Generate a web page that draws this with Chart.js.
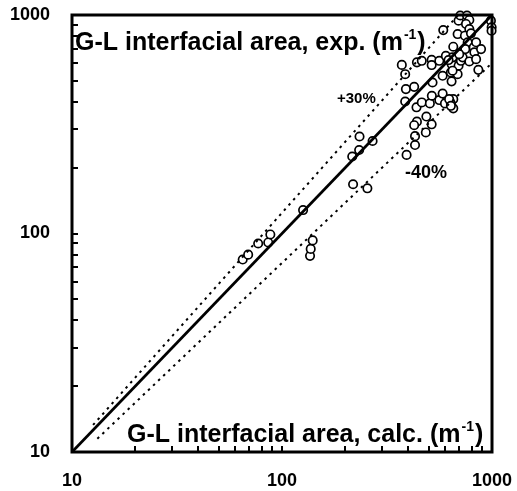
<!DOCTYPE html>
<html><head><meta charset="utf-8">
<script src="https://cdn.jsdelivr.net/npm/chart.js@4/dist/chart.umd.min.js"></script>
<style>html,body{margin:0;padding:0;background:#fff;}#wrap{width:517px;height:491px;}</style>
</head><body><div id="wrap"><canvas id="c" width="517" height="491"></canvas></div>
<script>
// Measured points: G-L interfacial area, calculated (x) vs experimental (y), m^-1
const calcValues = [65,69,77,86,88,126,136,137,140,216,233,234,270,218,255,392,430,430,439,426,484,516,487,437,463,506,517,561,582,597,654,654,637,386,389,426,386,372,439,463,516,516,561,521,582,603,642,637,642,649,654,686,693,711,725,686,693,706,760,780,752,780,743,766,746,780,818,824,840,840,887,794,861,586,988,996,995,698,625,637,621,649];
const expValues  = [76,80,90,91,99,128,79,85,93,225,241,278,265,168,161,229,254,279,325,313,290,316,343,378,398,394,427,408,437,394,374,412,394,402,458,469,536,591,607,617,624,590,617,491,527,650,497,546,596,640,716,536,586,617,640,818,942,995,995,949,910,863,804,750,698,613,711,675,750,628,698,824,561,853,942,879,847,662,412,384,622,556];
// Reference lines
const parityX = [10, 1000];
const parityY = [10, 1000];
const plus30X = [12.6, 690];
const plus30Y = [13.3, 1000];
const minus40X = [13.2, 1000];
const minus40Y = [11.5, 603];
// Axis ticks
const axisTickLabels = [10, 100, 1000];
const minorTickValues = [20,30,40,50,60,70,80,90,100,200,300,400,500,600,700,800,900];
const titleY = 'G-L interfacial area, exp. (m';
const titleX = 'G-L interfacial area, calc. (m';
const supText = '-1';
const plusLabel = '+30%';
const minusLabel = '-40%';

const FONT = '"Liberation Sans", Arial, Helvetica, sans-serif';
const pts = calcValues.map((v, i) => ({x: v, y: expValues[i]}));
const toPts = (xs, ys) => xs.map((v, i) => ({x: v, y: ys[i]}));

const decor = {
  id: 'decor',
  afterDraw(chart) {
    const ctx = chart.ctx, a = chart.chartArea;
    const xs = chart.scales.x, ys = chart.scales.y;
    ctx.save();
    ctx.strokeStyle = '#000';
    ctx.lineWidth = 2;
    minorTickValues.forEach(v => {
      const py = Math.round(ys.getPixelForValue(v));
      ctx.beginPath(); ctx.moveTo(a.left, py); ctx.lineTo(a.left + 6, py); ctx.stroke();
      const px = Math.round(xs.getPixelForValue(v));
      ctx.beginPath(); ctx.moveTo(px, a.bottom); ctx.lineTo(px, a.bottom - 6); ctx.stroke();
    });
    ctx.lineWidth = 3;
    ctx.strokeRect(a.left, a.top, a.right - a.left, a.bottom - a.top);
    ctx.fillStyle = '#000';
    ctx.textBaseline = 'alphabetic';
    ctx.textAlign = 'left';
    function title(txt, x, y) {
      ctx.font = 'bold 25px ' + FONT;
      ctx.fillText(txt, x, y);
      const w = ctx.measureText(txt).width;
      ctx.font = 'bold 14px ' + FONT;
      ctx.fillText(supText, x + w + 1, y - 11);
      const w2 = ctx.measureText(supText).width;
      ctx.font = 'bold 25px ' + FONT;
      ctx.fillText(')', x + w + w2 + 2, y);
    }
    title(titleY, 75, 50);
    title(titleX, 127, 442);
    ctx.font = 'bold 15px ' + FONT;
    ctx.fillText(plusLabel, 337, 103);
    ctx.font = 'bold 18px ' + FONT;
    ctx.fillText(minusLabel, 405, 178);
    ctx.restore();
  }
};

const tickFont = {family: FONT, size: 18, weight: 'bold'};
function zeroPad(s) { s.paddingLeft = 0; s.paddingRight = 0; s.paddingTop = 0; s.paddingBottom = 0; }
new Chart(document.getElementById('c'), {
  type: 'scatter',
  data: {
    datasets: [
      {type: 'line', data: toPts(parityX, parityY), borderColor: '#000', borderWidth: 2.8, pointRadius: 0, fill: false},
      {type: 'line', data: toPts(plus30X, plus30Y), borderColor: '#000', borderWidth: 2, borderDash: [2.5, 4.5], pointRadius: 0, fill: false},
      {type: 'line', data: toPts(minus40X, minus40Y), borderColor: '#000', borderWidth: 2, borderDash: [2.5, 4.5], pointRadius: 0, fill: false},
      {data: pts, pointRadius: 4.2, pointBorderWidth: 1.7, pointBorderColor: '#000', pointBackgroundColor: '#fff', clip: false}
    ]
  },
  options: {
    responsive: false,
    animation: false,
    devicePixelRatio: 1,
    layout: {padding: {left: 0, right: 25, top: 15, bottom: 0}},
    plugins: {legend: {display: false}, tooltip: {enabled: false}},
    scales: {
      x: {
        type: 'logarithmic', min: 10, max: 1000,
        grid: {display: false, drawTicks: false}, border: {display: false},
        ticks: {font: tickFont, color: '#000', padding: 18, maxRotation: 0, autoSkip: false, callback: v => String(v)},
        afterBuildTicks: s => { s.ticks = axisTickLabels.map(v => ({value: v})); },
        afterFit: s => { s.height = 39; zeroPad(s); }
      },
      y: {
        type: 'logarithmic', min: 10, max: 1000,
        grid: {display: false, drawTicks: false}, border: {display: false},
        ticks: {font: tickFont, color: '#000', padding: 22, autoSkip: false, callback: v => String(v)},
        afterBuildTicks: s => { s.ticks = axisTickLabels.map(v => ({value: v})); },
        afterFit: s => { s.width = 72; zeroPad(s); }
      }
    }
  },
  plugins: [decor]
});
</script></body></html>
